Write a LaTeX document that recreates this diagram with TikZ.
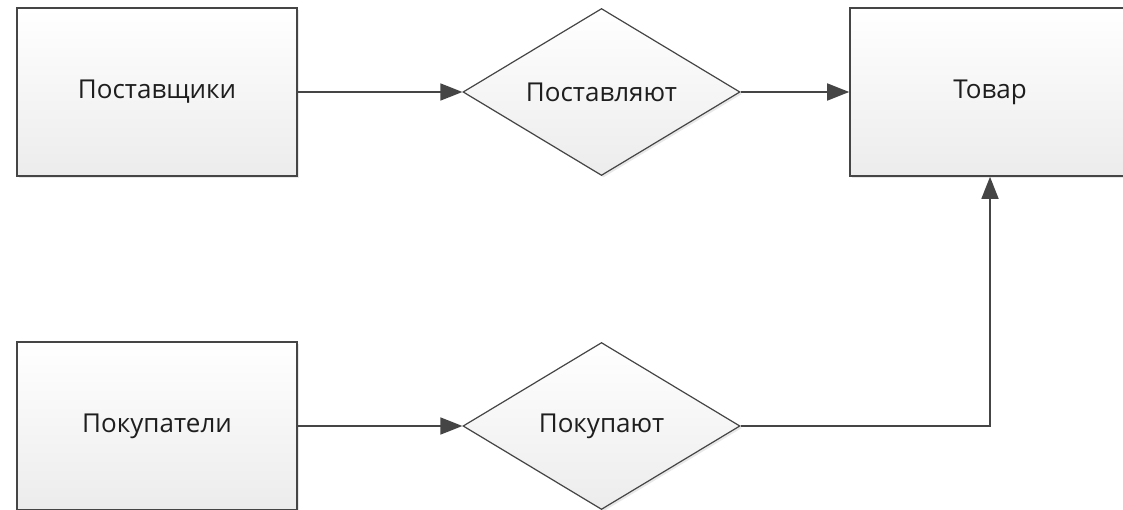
\documentclass[tikz,border=0pt]{standalone}
\usepackage{fontspec}
\setmainfont{Open Sans}
\usetikzlibrary{shapes.geometric,arrows.meta,shadows}
\definecolor{edge}{HTML}{454545}
\definecolor{txt}{HTML}{1E1E1E}
\definecolor{fillbot}{HTML}{ECECEC}
\tikzset{
  entity/.style={rectangle, draw=edge, line width=1.6pt, minimum width=280pt, minimum height=168pt,
    top color=white, bottom color=fillbot, inner sep=0pt, text=txt, font=\fontsize{26}{30}\selectfont,
    drop shadow={opacity=0.18, shadow xshift=2pt, shadow yshift=-2pt}},
  relation/.style={diamond, draw=edge, line width=1.2pt, minimum width=277pt, minimum height=167pt,
    aspect=1.66, inner sep=0pt, top color=white, bottom color=fillbot, text=txt, font=\fontsize{26}{30}\selectfont,
    drop shadow={opacity=0.18, shadow xshift=2pt, shadow yshift=-2pt}},
  conn/.style={draw=edge, line width=1.6pt, -{Triangle[length=22pt,width=17pt]}}
}
\begin{document}
\begin{tikzpicture}[x=1pt,y=-1pt]
\useasboundingbox (0,0) rectangle (1123,510);
\clip (0,0) rectangle (1123,510);
\fill[white] (0,0) rectangle (1123,510);
\node[entity] (sup) at (157,92) {Поставщики};
\node[relation] (supply) at (601.5,92) {Поставляют};
\node[entity] (goods) at (990,92) {Товар};
\node[entity] (buy) at (157,426) {Покупатели};
\node[relation] (purchase) at (601.5,426) {Покупают};
\draw[conn] (sup.east) -- (supply.west);
\draw[conn] (supply.east) -- (goods.west);
\draw[conn] (buy.east) -- (purchase.west);
\draw[conn] (purchase.east) -| (goods.south);
\end{tikzpicture}
\end{document}
